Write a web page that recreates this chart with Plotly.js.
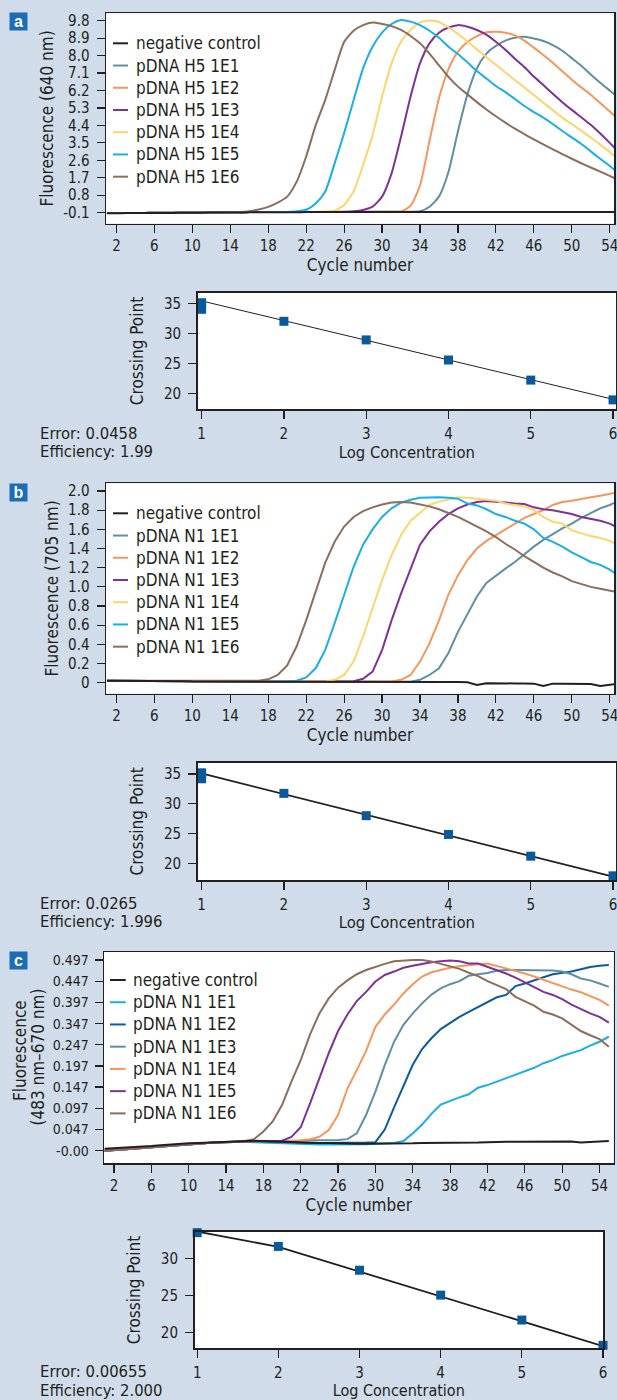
<!DOCTYPE html>
<html><head><meta charset="utf-8">
<script src="https://cdn.plot.ly/plotly-3.0.1.min.js"></script>
<style>html,body{margin:0;padding:0;background:#d0dce9;}#chart{width:617px;height:1400px;}</style>
</head><body><div id="chart"></div>
<script>
// ---------------- DATA ----------------
const cycles = [1,2,3,4,5,6,7,8,9,10,11,12,13,14,15,16,17,18,19,20,21,22,23,24,25,26,27,28,29,30,31,32,33,34,35,36,37,38,39,40,41,42,43,44,45,46,47,48,49,50,51,52,53,54,55];
const cycleTicks = [2,6,10,14,18,22,26,30,34,38,42,46,50,54];

// Panel a (640 nm, pDNA H5)
const aNeg = [-0.13,-0.13,-0.12,-0.12,-0.12, -0.11,-0.11,-0.11,-0.10,-0.10, -0.10,-0.09,-0.09,-0.09,-0.09, -0.08,-0.08,-0.08,-0.08,-0.08, -0.08,-0.07,-0.07,-0.07,-0.07, -0.07,-0.07,-0.07,-0.07,-0.07, -0.07,-0.07,-0.07,-0.07,-0.07, -0.07,-0.07,-0.06,-0.06,-0.06, -0.06,-0.06,-0.06,-0.06,-0.06, -0.06,-0.06,-0.06,-0.06,-0.06, -0.06,-0.06,-0.06,-0.06,-0.06];
const aE1 = [-0.12,-0.12,-0.11,-0.11,-0.11, -0.10,-0.10,-0.10,-0.09,-0.09, -0.09,-0.08,-0.08,-0.08,-0.08, -0.07,-0.07,-0.07,-0.07,-0.07, -0.07,-0.06,-0.06,-0.06,-0.06, -0.06,-0.06,-0.06,-0.05,-0.05, -0.05,-0.05,-0.05,-0.03,0.21, 0.73,2.0,4.1,6.0,7.35, 8.1,8.5,8.77,8.92,8.97, 8.88,8.75,8.54,8.25,7.87, 7.48,7.03,6.6,6.2,5.8];
const aE2 = [-0.12,-0.12,-0.11,-0.11,-0.11, -0.10,-0.10,-0.10,-0.09,-0.09, -0.09,-0.08,-0.08,-0.08,-0.08, -0.07,-0.07,-0.07,-0.07,-0.07, -0.07,-0.06,-0.06,-0.06,-0.06, -0.06,-0.06,-0.06,-0.05,-0.05, -0.05,-0.04,0.25,1.3,3.6, 5.8,7.3,8.2,8.7,9.0, 9.2,9.23,9.18,9.04,8.77, 8.41,8.03,7.63,7.19,6.76, 6.36,5.98,5.55,5.12,4.68];
const aE3 = [-0.12,-0.12,-0.11,-0.11,-0.11, -0.10,-0.10,-0.10,-0.09,-0.09, -0.09,-0.08,-0.08,-0.08,-0.08, -0.07,-0.07,-0.07,-0.07,-0.07, -0.07,-0.06,-0.06,-0.06,-0.06, -0.05,-0.03,0.04,0.21,0.73, 1.93,3.82,5.88,7.6,8.63, 9.18,9.45,9.57,9.49,9.32, 9.08,8.71,8.3,7.84,7.41, 6.92,6.48,6.03,5.6,5.2, 4.82,4.43,3.98,3.5,3.0];
const aE4 = [-0.12,-0.12,-0.11,-0.11,-0.11, -0.10,-0.10,-0.10,-0.09,-0.09, -0.09,-0.08,-0.08,-0.08,-0.08, -0.07,-0.07,-0.07,-0.07,-0.07, -0.07,-0.06,-0.06,-0.04,0.0, 0.3,1.0,2.36,3.9,5.88, 7.6,8.71,9.32,9.7,9.81, 9.73,9.45,9.11,8.73,8.32, 7.92,7.53,7.13,6.74,6.36, 5.97,5.57,5.19,4.8,4.47, 4.13,3.78,3.41,3.03,2.62];
const aE5 = [-0.12,-0.12,-0.11,-0.11,-0.11, -0.10,-0.10,-0.10,-0.09,-0.09, -0.09,-0.08,-0.08,-0.08,-0.08, -0.07,-0.07,-0.07,-0.07,-0.06, -0.03,0.05,0.38,0.98,2.44, 4.0,5.7,7.34,8.46,9.18, 9.63,9.83,9.75,9.57,9.28, 8.92,8.46,8.08,7.65,7.2, 6.82,6.43,6.12,5.76,5.4, 5.09,4.8,4.47,4.11,3.78, 3.44,3.06,2.68,2.31,1.9];
const aE6 = [-0.12,-0.12,-0.11,-0.11,-0.11, -0.10,-0.10,-0.10,-0.09,-0.09, -0.09,-0.08,-0.08,-0.07,-0.06, -0.02,0.07,0.2,0.42,0.73, 1.5,2.8,4.4,5.7,7.25, 8.7,9.28,9.57,9.7,9.63, 9.52,9.32,9.01,8.63,8.1, 7.5,6.9,6.4,6.0,5.6, 5.22,4.87,4.54,4.23,3.95, 3.68,3.42,3.17,2.92,2.68, 2.45,2.23,2.02,1.8,1.55];
const aYTicks = [-0.1,0.8,1.7,2.6,3.5,4.4,5.3,6.2,7.1,8.0,8.9,9.8];
const aYTickText = ["-0.1","0.8","1.7","2.6","3.5","4.4","5.3","6.2","7.1","8.0","8.9","9.8"];
const aNames = ["negative control","pDNA H5 1E1","pDNA H5 1E2","pDNA H5 1E3","pDNA H5 1E4","pDNA H5 1E5","pDNA H5 1E6"];

// Panel b (705 nm, pDNA N1)
const bNeg = [0.02,0.02,0.02,0.02,0.015, 0.015,0.015,0.015,0.015,0.012, 0.012,0.012,0.012,0.012,0.012, 0.012,0.012,0.012,0.01,0.01, 0.01,0.01,0.01,0.008,0.008, 0.008,0.008,0.008,0.006,0.006, 0.006,0.005,0.005,0.005,0.006, 0.006,0.006,0.006,0.004,-0.025, -0.005,-0.008,-0.008,-0.008,-0.008, -0.01,-0.035,-0.01,-0.012,-0.012, -0.015,-0.015,-0.035,-0.02,-0.008];
const bE1 = [0.02,0.02,0.02,0.02,0.018, 0.017,0.016,0.015,0.015,0.014, 0.014,0.013,0.013,0.013,0.013, 0.012,0.012,0.012,0.012,0.012, 0.011,0.011,0.011,0.011,0.011, 0.01,0.01,0.01,0.01,0.01, 0.01,0.01,0.01,0.03,0.08, 0.15,0.31,0.53,0.72,0.9, 1.04,1.12,1.19,1.26,1.34, 1.42,1.49,1.55,1.61,1.66, 1.72,1.77,1.82,1.855,1.9];
const bE2 = [0.02,0.02,0.02,0.02,0.018, 0.017,0.016,0.015,0.015,0.014, 0.014,0.013,0.013,0.013,0.013, 0.012,0.012,0.012,0.012,0.012, 0.011,0.011,0.011,0.011,0.011, 0.011,0.01,0.01,0.01,0.01, 0.012,0.03,0.08,0.22,0.41, 0.65,0.92,1.12,1.28,1.4, 1.48,1.54,1.6,1.66,1.72, 1.76,1.8,1.855,1.885,1.9, 1.92,1.935,1.95,1.97,1.99];
const bE3 = [0.02,0.02,0.02,0.02,0.018, 0.017,0.016,0.015,0.015,0.014, 0.014,0.013,0.013,0.013,0.013, 0.012,0.012,0.012,0.012,0.012, 0.012,0.011,0.011,0.011,0.011, 0.011,0.015,0.04,0.115,0.34, 0.65,0.93,1.19,1.44,1.58, 1.68,1.76,1.82,1.86,1.885, 1.895,1.89,1.88,1.87,1.865, 1.83,1.81,1.8,1.78,1.76, 1.73,1.71,1.69,1.66,1.61];
const bE4 = [0.02,0.02,0.02,0.02,0.018, 0.017,0.016,0.015,0.015,0.014, 0.014,0.013,0.013,0.013,0.013, 0.012,0.012,0.012,0.012,0.012, 0.012,0.012,0.012,0.012,0.03, 0.08,0.22,0.48,0.78,1.07, 1.33,1.54,1.69,1.77,1.855, 1.89,1.91,1.935,1.93,1.92, 1.91,1.9,1.87,1.855,1.84, 1.8,1.73,1.68,1.66,1.59, 1.56,1.53,1.51,1.48,1.43];
const bE5 = [0.02,0.02,0.02,0.02,0.018, 0.017,0.016,0.015,0.015,0.014, 0.014,0.013,0.013,0.013,0.013, 0.012,0.012,0.012,0.012,0.012, 0.02,0.055,0.15,0.34,0.62, 0.92,1.21,1.44,1.6,1.73, 1.82,1.88,1.91,1.93,1.935, 1.935,1.93,1.92,1.87,1.85, 1.81,1.76,1.73,1.69,1.66, 1.6,1.51,1.47,1.42,1.36, 1.31,1.26,1.23,1.18,1.11];
const bE6 = [0.02,0.02,0.02,0.02,0.018, 0.017,0.016,0.015,0.015,0.014, 0.014,0.013,0.013,0.013,0.013, 0.015,0.02,0.035,0.08,0.18, 0.38,0.65,0.95,1.25,1.47, 1.63,1.73,1.79,1.83,1.86, 1.88,1.885,1.88,1.86,1.84, 1.81,1.77,1.73,1.68,1.63, 1.58,1.52,1.45,1.39,1.32, 1.26,1.2,1.15,1.11,1.06, 1.03,1.0,0.98,0.96,0.94];
const bYTicks = [0,0.2,0.4,0.6,0.8,1.0,1.2,1.4,1.6,1.8,2.0];
const bYTickText = ["0","0.2","0.4","0.6","0.8","1.0","1.2","1.4","1.6","1.8","2.0"];
const bNames = ["negative control","pDNA N1 1E1","pDNA N1 1E2","pDNA N1 1E3","pDNA N1 1E4","pDNA N1 1E5","pDNA N1 1E6"];

// Panel c (483 nm-670 nm, pDNA N1)
const cNeg = [0.005,0.006,0.007,0.009,0.01, 0.012,0.014,0.016,0.017,0.019, 0.02,0.021,0.022,0.023,0.024, 0.025,0.026,0.025,0.024,0.023, 0.022,0.021,0.021,0.02,0.02, 0.019,0.019,0.018,0.018,0.018, 0.018,0.018,0.019,0.019,0.02, 0.02,0.02,0.021,0.021,0.021, 0.021,0.022,0.023,0.023,0.023, 0.023,0.023,0.024,0.024,0.024, 0.024,0.021,0.022,0.023,0.025];
const cE1 = [0.0,0.001,0.003,0.005,0.007, 0.009,0.011,0.013,0.015,0.017, 0.019,0.02,0.021,0.022,0.023, 0.023,0.022,0.021,0.02,0.019, 0.018,0.017,0.017,0.016,0.016, 0.016,0.016,0.016,0.017,0.018, 0.019,0.02,0.025,0.045,0.068, 0.096,0.12,0.13,0.139,0.147, 0.164,0.171,0.18,0.19,0.197, 0.206,0.216,0.228,0.236,0.247, 0.254,0.262,0.274,0.284,0.297];
const cE2 = [0.0,0.001,0.003,0.005,0.007, 0.009,0.011,0.013,0.015,0.017, 0.019,0.02,0.021,0.022,0.023, 0.024,0.025,0.024,0.023,0.022, 0.021,0.021,0.02,0.02,0.02, 0.02,0.02,0.02,0.021,0.022, 0.055,0.113,0.168,0.224,0.265, 0.293,0.317,0.334,0.349,0.362, 0.375,0.388,0.4,0.406,0.429, 0.436,0.445,0.452,0.46,0.463, 0.467,0.473,0.479,0.482,0.484];
const cE3 = [0.0,0.001,0.003,0.005,0.007, 0.009,0.011,0.013,0.015,0.017, 0.019,0.02,0.021,0.022,0.023, 0.024,0.025,0.025,0.025,0.025, 0.026,0.026,0.027,0.027,0.028, 0.028,0.03,0.045,0.093,0.154, 0.223,0.284,0.328,0.358,0.384, 0.407,0.423,0.434,0.442,0.456, 0.46,0.463,0.469,0.471,0.471, 0.471,0.471,0.471,0.47,0.467, 0.46,0.449,0.444,0.436,0.427];
const cE4 = [0.0,0.001,0.003,0.005,0.007, 0.009,0.011,0.013,0.015,0.017, 0.019,0.02,0.021,0.022,0.023, 0.024,0.025,0.025,0.025,0.025, 0.026,0.027,0.03,0.036,0.054, 0.093,0.162,0.21,0.26,0.323, 0.355,0.381,0.41,0.434,0.454, 0.465,0.472,0.477,0.481,0.484, 0.486,0.488,0.482,0.475,0.468, 0.462,0.454,0.445,0.436,0.427, 0.42,0.413,0.404,0.393,0.378];
const cE5 = [0.0,0.001,0.003,0.005,0.007, 0.009,0.011,0.013,0.015,0.017, 0.019,0.02,0.021,0.022,0.023, 0.024,0.025,0.025,0.025,0.026, 0.036,0.061,0.123,0.189,0.254, 0.312,0.355,0.39,0.414,0.441, 0.458,0.467,0.477,0.482,0.487, 0.491,0.494,0.496,0.494,0.488, 0.488,0.48,0.471,0.462,0.451, 0.439,0.427,0.414,0.406,0.395, 0.381,0.369,0.358,0.349,0.334];
const cE6 = [0.0,0.001,0.003,0.005,0.007, 0.009,0.011,0.013,0.015,0.017, 0.019,0.02,0.021,0.022,0.023, 0.025,0.03,0.05,0.076,0.119, 0.18,0.236,0.303,0.358,0.397, 0.425,0.444,0.46,0.471,0.48, 0.487,0.494,0.496,0.497,0.497, 0.493,0.487,0.48,0.474,0.464, 0.455,0.442,0.432,0.421,0.401, 0.39,0.378,0.362,0.355,0.345, 0.328,0.312,0.301,0.291,0.271];
const cYTicks = [0,0.0552,0.1104,0.1657,0.2209,0.2761,0.3313,0.3866,0.4418,0.497];
const cYTickText = ["-0.00","0.047","0.097","0.147","0.197","0.247","0.347","0.397","0.447","0.497"];
const cYTitle = ["Fluorescence","(483 nm–670 nm)"];
const cNames = ["negative control","pDNA N1 1E1","pDNA N1 1E2","pDNA N1 1E3","pDNA N1 1E4","pDNA N1 1E5","pDNA N1 1E6"];

// Standard curves (crossing point vs log concentration)
const logConc = [1,2,3,4,5,6];
const cpXab = [1,1,2,3,4,5,6];
const cpA = [35.1,34.0,32.0,28.9,25.55,22.2,18.9];
const fitXA = [1,6];
const fitA = [35.4,19.0];
const cpB = [35.2,34.2,31.75,28.0,24.85,21.2,17.9];
const fitXB = [1,6];
const fitB = [35.1,17.75];
const cpC = [33.45,31.6,28.4,25.05,21.7,18.3];
const fitXC = [1,2,6];
const fitC = [33.6,31.55,18.2];
const cpTicksAB = [20,25,30,35];
const cpTicksC = [20,25,30];
const statsA = ["Error: 0.0458","Efficiency: 1.99"];
const statsB = ["Error: 0.0265","Efficiency: 1.996"];
const statsC = ["Error: 0.00655","Efficiency: 2.000"];

// ---------------- STYLE ----------------
const W = 617, H = 1400;
const FONT = '"DejaVu Sans Condensed","Liberation Sans Narrow","Liberation Sans",sans-serif';
const INK = '#231f20';
const COL = {black:'#231f20', slate:'#5f8fa3', orange:'#f6965a', purple:'#7f3295', yellow:'#fdd56d', cyan:'#1aaee8', brown:'#8b6e5c', navy:'#0b5c9e'};
const colorsAB = [COL.black, COL.slate, COL.orange, COL.purple, COL.yellow, COL.cyan, COL.brown];
const colorsC  = [COL.black, COL.cyan, COL.navy, COL.slate, COL.orange, COL.purple, COL.brown];
const MARK = '#0a5a9b';

const px = x => x / W;
const py = y => 1 - y / H;

function curve(y, color, xa, ya, name, shape) {
  return {x: cycles, y: y, type: 'scatter', mode: 'lines', name: name, showlegend: false,
    xaxis: xa, yaxis: ya, line: {color: color, width: 2, shape: shape || 'linear', smoothing: 0.6}, hoverinfo: 'skip'};
}

const traces = [];
function panel(series, names, colors, xa, ya, shape) {
  for (let i = 1; i < series.length; i++) traces.push(curve(series[i], colors[i], xa, ya, names[i], shape));
  traces.push(curve(series[0], colors[0], xa, ya, names[0], shape));
}
panel([aNeg,aE1,aE2,aE3,aE4,aE5,aE6], aNames, colorsAB, 'x', 'y', 'spline');
panel([bNeg,bE1,bE2,bE3,bE4,bE5,bE6], bNames, colorsAB, 'x3', 'y3', 'linear');
panel([cNeg,cE1,cE2,cE3,cE4,cE5,cE6], cNames, colorsC, 'x5', 'y5', 'linear');

function cp(xv, yv, fx, fy, xa, ya, lw) {
  traces.push({x: fx, y: fy, type: 'scatter', mode: 'lines', showlegend: false, xaxis: xa, yaxis: ya,
    line: {color: INK, width: lw}, cliponaxis: false, hoverinfo: 'skip'});
  traces.push({x: xv, y: yv, type: 'scatter', mode: 'markers', showlegend: false, xaxis: xa, yaxis: ya,
    marker: {symbol: 'square', size: 9, color: MARK}, cliponaxis: false, hoverinfo: 'skip'});
}
cp(cpXab, cpA, fitXA, fitA, 'x2', 'y2', 1);
cp(cpXab, cpB, fitXB, fitB, 'x4', 'y4', 1.8);
cp(logConc, cpC, fitXC, fitC, 'x6', 'y6', 1.8);

const tickFont = {family: FONT, size: 15, color: INK};
const titleFont = {family: FONT, size: 17, color: INK};
const cpTitleFont = {family: FONT, size: 16.5, color: INK};
function axis(extra) {
  return Object.assign({showgrid: false, zeroline: false, showline: true, mirror: true, linecolor: INK, linewidth: 1.5,
    ticks: 'outside', ticklen: 8, tickwidth: 1.2, tickcolor: INK, tickfont: tickFont, ticklabelstandoff: 4,
    ticklabeloverflow: 'allow', fixedrange: true, automargin: false}, extra);
}
const layout = {
  width: W, height: H, margin: {l: 0, r: 0, t: 0, b: 0},
  paper_bgcolor: '#d0dce9', plot_bgcolor: '#ffffff', showlegend: false,
  font: {family: FONT, color: INK},
  xaxis: axis({domain: [px(106), px(614)], range: [0.9, 54.45], tickvals: cycleTicks, anchor: 'y', ticklabelstandoff: 0,
    title: {text: 'Cycle number', font: titleFont, standoff: 0}}),
  yaxis: axis({domain: [py(223.5), py(13.3)], range: [-0.657, 10.18], tickvals: aYTicks, ticktext: aYTickText, anchor: 'x',
    title: {text: 'Fluorescence (640 nm)', font: titleFont, standoff: 5}}),
  xaxis2: axis({domain: [px(197.6), px(616)], range: [0.951, 6.036], tickvals: logConc, anchor: 'y2', ticklabelstandoff: 2,
    title: {text: 'Log Concentration', font: cpTitleFont, standoff: 0}}),
  yaxis2: axis({domain: [py(409.3), py(292.7)], range: [17.33, 36.77], tickvals: cpTicksAB, anchor: 'x2',
    title: {text: 'Crossing Point', font: titleFont, standoff: 16}}),
  xaxis3: axis({domain: [px(106), px(614)], range: [0.9, 54.45], tickvals: cycleTicks, anchor: 'y3', ticklabelstandoff: 0,
    title: {text: 'Cycle number', font: titleFont, standoff: 0}}),
  yaxis3: axis({domain: [py(693.5), py(483.3)], range: [-0.113, 2.081], tickvals: bYTicks, ticktext: bYTickText, anchor: 'x3',
    title: {text: 'Fluorescence (705 nm)', font: titleFont, standoff: 5}}),
  xaxis4: axis({domain: [px(197.6), px(616)], range: [0.951, 6.036], tickvals: logConc, anchor: 'y4', ticklabelstandoff: 2,
    title: {text: 'Log Concentration', font: cpTitleFont, standoff: 0}}),
  yaxis4: axis({domain: [py(880), py(762.7)], range: [17.2, 36.9], tickvals: cpTicksAB, anchor: 'x4',
    title: {text: 'Crossing Point', font: titleFont, standoff: 16}}),
  xaxis5: axis({domain: [px(104), px(613.5)], range: [0.93, 55.5], tickvals: cycleTicks, anchor: 'y5', ticklabelstandoff: 0,
    title: {text: 'Cycle number', font: titleFont, standoff: 0}}),
  yaxis5: axis({domain: [py(1163.3), py(952)], range: [-0.033, 0.518], tickvals: cYTicks, ticktext: cYTickText, anchor: 'x5',
    tickfont: {family: FONT, size: 14, color: INK}, ticklabelstandoff: 3}),
  xaxis6: axis({domain: [px(194.5), px(603)], range: [0.967, 6.0], tickvals: logConc, anchor: 'y6', ticklabelstandoff: 2,
    title: {text: 'Log Concentration', font: {family: FONT, size: 16, color: INK}, standoff: 2}}),
  yaxis6: axis({domain: [py(1348.3), py(1231.7)], range: [17.9, 33.58], tickvals: cpTicksC, anchor: 'x6',
    title: {text: 'Crossing Point', font: titleFont, standoff: 16}}),
  annotations: [], shapes: []
};

// two-line y title of panel c (line spacing as in the reference)
[[cYTitle[0], 20, 1051], [cYTitle[1], 37.5, 1057]].forEach(([t, x, y]) => {
  layout.annotations.push({text: t, xref: 'paper', yref: 'paper', x: px(x), y: py(y), textangle: -90,
    xanchor: 'center', yanchor: 'middle', showarrow: false, borderpad: 0, font: titleFont});
});

// panel letters
[['a', 18, 22], ['b', 18, 492.5], ['c', 18, 960.5]].forEach(([t, x, y]) => {
  layout.annotations.push({text: '<b>' + t + '</b>', xref: 'paper', yref: 'paper', x: px(x), y: py(y),
    xanchor: 'center', yanchor: 'middle', showarrow: false, width: 17, height: 17, borderpad: 0,
    bgcolor: '#1a6db6', font: {family: '"Liberation Sans",sans-serif', size: 16, color: '#ffffff'}});
});

// legends (drawn as text + short line swatches)
function legend(names, colors, y0, sx0, sx1, tx) {
  names.forEach((n, k) => {
    const y = y0 + k * 22.23;
    layout.shapes.push({type: 'line', xref: 'paper', yref: 'paper', x0: px(sx0), x1: px(sx1), y0: py(y), y1: py(y),
      line: {color: colors[k], width: 2}});
    layout.annotations.push({text: n, xref: 'paper', yref: 'paper', x: px(tx), y: py(y), xanchor: 'left', yanchor: 'middle',
      showarrow: false, borderpad: 0, font: {family: FONT, size: 17, color: INK}});
  });
}
legend(aNames, colorsAB, 43.3, 113, 128, 134.5);
legend(bNames, colorsAB, 513.3, 113, 128, 134.5);
legend(cNames, colorsC, 980, 110, 125.7, 131.8);

// error / efficiency notes
function stats(lines, y0, y1) {
  [y0, y1].forEach((y, i) => layout.annotations.push({text: lines[i], xref: 'paper', yref: 'paper', x: px(39), y: py(y),
    xanchor: 'left', yanchor: 'middle', showarrow: false, borderpad: 0, font: {family: FONT, size: 16.5, color: INK}}));
}
stats(statsA, 433.3, 451.7);
stats(statsB, 903.3, 921.7);
stats(statsC, 1371.7, 1390);

Plotly.newPlot('chart', traces, layout, {staticPlot: true, displayModeBar: false});
</script></body></html>
